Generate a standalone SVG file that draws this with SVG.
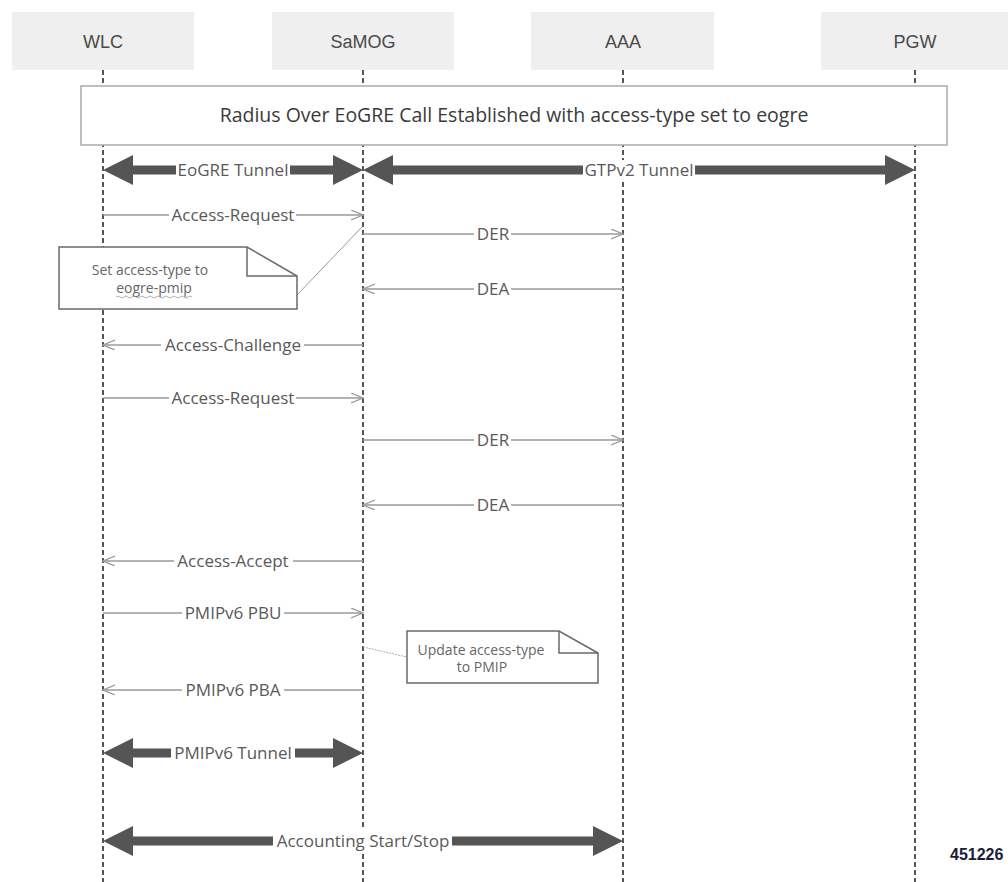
<svg xmlns="http://www.w3.org/2000/svg" width="1008" height="882" viewBox="0 0 1008 882">
<defs>
<marker id="chev" markerUnits="userSpaceOnUse" markerWidth="14" markerHeight="12" refX="12" refY="5" orient="auto">
<path d="M0,0 L12,5 L0,10" fill="none" stroke="#9a9a9a" stroke-width="1.3"/>
</marker>
<style>
.hdr{fill:#efefef;}
.htxt{font-family:"Liberation Sans",Arial,sans-serif;font-size:18px;fill:#4a4a4a;text-anchor:middle;}
.life{stroke:#555;stroke-width:2;stroke-dasharray:5 3;fill:none;}
.msg{stroke:#9a9a9a;stroke-width:1.4;fill:none;marker-end:url(#chev);}
.lbl{font-family:"Open Sans","Noto Sans",sans-serif;font-size:17px;fill:#595959;text-anchor:middle;}
.bg{fill:#fff;}
.thick{fill:#555;}
.note{fill:#fff;stroke:#6a6a6a;stroke-width:1.5;}
.fold{fill:none;stroke:#6a6a6a;stroke-width:1.5;}
.ntxt{font-family:"Open Sans","Noto Sans",sans-serif;font-size:14px;fill:#666;text-anchor:middle;}
</style>
</defs>
<rect width="1008" height="882" fill="#fff"/>

<g id="node-WLC">
<rect class="hdr" x="12" y="12" width="182" height="58"/>
<text class="htxt" x="103" y="48">WLC</text>
<line class="life" x1="103" y1="70" x2="103" y2="882"/>
</g>
<g id="node-SaMOG">
<rect class="hdr" x="272" y="12" width="182" height="58"/>
<text class="htxt" x="363" y="48">SaMOG</text>
<line class="life" x1="363" y1="70" x2="363" y2="882"/>
</g>
<g id="node-AAA">
<rect class="hdr" x="531" y="12" width="183" height="58"/>
<text class="htxt" x="623" y="48">AAA</text>
<line class="life" x1="623" y1="70" x2="623" y2="882"/>
</g>
<g id="node-PGW">
<rect class="hdr" x="821" y="12" width="187" height="58"/>
<text class="htxt" x="915" y="48">PGW</text>
<line class="life" x1="915" y1="70" x2="915" y2="882"/>
</g>

<g id="banner">
<rect x="81" y="86" width="866" height="59" fill="#fff" stroke="#aaa" stroke-width="1.5"/>
<text x="514" y="122" font-family="'Open Sans','Noto Sans',sans-serif" font-size="19.5" fill="#3a3a3a" text-anchor="middle">Radius Over EoGRE Call Established with access-type set to eogre</text>
</g>

<g id="connectors">
<!-- EoGRE Tunnel -->
<polygon class="thick" points="103,170 133,155 133,165.5 333,165.5 333,155 363,170 333,185 333,174.5 133,174.5 133,185"/>
<rect class="bg" x="176" y="160" width="114" height="20"/>
<text class="lbl" x="233" y="176">EoGRE Tunnel</text>
<!-- GTPv2 Tunnel -->
<polygon class="thick" points="363,170 393,155 393,165.5 885,165.5 885,155 915,170 885,185 885,174.5 393,174.5 393,185"/>
<rect class="bg" x="583" y="160" width="112" height="20"/>
<text class="lbl" x="639" y="176">GTPv2 Tunnel</text>

<!-- Access-Request -->
<line class="msg" x1="103" y1="215" x2="363" y2="215"/>
<rect class="bg" x="169" y="205" width="127" height="20"/>
<text class="lbl" x="233" y="221">Access-Request</text>
<!-- DER -->
<line class="msg" x1="363" y1="234" x2="623" y2="234"/>
<rect class="bg" x="474" y="224" width="37" height="20"/>
<text class="lbl" x="493" y="240">DER</text>
<!-- DEA -->
<line class="msg" x1="623" y1="289" x2="363" y2="289"/>
<rect class="bg" x="474" y="279" width="37" height="20"/>
<text class="lbl" x="493" y="295">DEA</text>
<!-- Access-Challenge -->
<line class="msg" x1="363" y1="345" x2="103" y2="345"/>
<rect class="bg" x="161" y="335" width="143" height="20"/>
<text class="lbl" x="233" y="351">Access-Challenge</text>
<!-- Access-Request 2 -->
<line class="msg" x1="103" y1="398" x2="363" y2="398"/>
<rect class="bg" x="169" y="388" width="127" height="20"/>
<text class="lbl" x="233" y="404">Access-Request</text>
<!-- DER 2 -->
<line class="msg" x1="363" y1="440" x2="623" y2="440"/>
<rect class="bg" x="474" y="430" width="37" height="20"/>
<text class="lbl" x="493" y="446">DER</text>
<!-- DEA 2 -->
<line class="msg" x1="623" y1="505" x2="363" y2="505"/>
<rect class="bg" x="474" y="495" width="37" height="20"/>
<text class="lbl" x="493" y="511">DEA</text>
<!-- Access-Accept -->
<line class="msg" x1="363" y1="561" x2="103" y2="561"/>
<rect class="bg" x="174" y="551" width="119" height="20"/>
<text class="lbl" x="233" y="567">Access-Accept</text>
<!-- PMIPv6 PBU -->
<line class="msg" x1="103" y1="613" x2="363" y2="613"/>
<rect class="bg" x="182" y="603" width="102" height="20"/>
<text class="lbl" x="233" y="619">PMIPv6 PBU</text>
<!-- PMIPv6 PBA -->
<line class="msg" x1="363" y1="690" x2="103" y2="690"/>
<rect class="bg" x="182" y="680" width="102" height="20"/>
<text class="lbl" x="233" y="696">PMIPv6 PBA</text>

<!-- PMIPv6 Tunnel -->
<polygon class="thick" points="103,753 133,738 133,748.5 333,748.5 333,738 363,753 333,768 333,757.5 133,757.5 133,768"/>
<rect class="bg" x="171" y="743" width="124" height="20"/>
<text class="lbl" x="233" y="759">PMIPv6 Tunnel</text>
<!-- Accounting Start/Stop -->
<polygon class="thick" points="103,841 133,826 133,836.5 593,836.5 593,826 623,841 593,856 593,845.5 133,845.5 133,856"/>
<rect class="bg" x="273" y="829" width="179" height="24"/>
<text class="lbl" x="363" y="847">Accounting Start/Stop</text>

<!-- note anchors -->
<line x1="297" y1="295" x2="362" y2="227" stroke="#9a9a9a" stroke-width="1"/>
<line x1="363" y1="647" x2="407" y2="657" stroke="#b0b0b0" stroke-width="1" stroke-dasharray="2 1"/>
</g>

<g id="note-eogre-pmip">
<path class="note" d="M59,247 H247 L297,276 V309 H59 Z"/>
<path class="fold" d="M247,247 V276 H297"/>
<text class="ntxt" x="150" y="275">Set access-type to</text>
<text class="ntxt" x="154" y="293">eogre-pmip</text>
<path d="M116,297 q2,-2 4,0 t4,0 t4,0 t4,0 t4,0 t4,0 t4,0 t4,0 t4,0 t4,0 t4,0 t4,0 t4,0 t4,0 t4,0 t4,0 t4,0 t4,0 t4,0" fill="none" stroke="#999" stroke-width="0.8"/>
</g>

<g id="note-pmip">
<path class="note" d="M407,631 H559 L598,653 V683 H407 Z"/>
<path class="fold" d="M559,631 V653 H598"/>
<text class="ntxt" x="481" y="655">Update access-type</text>
<text class="ntxt" x="482" y="672">to PMIP</text>
</g>

<text x="950" y="860" font-family="'Liberation Sans',Arial,sans-serif" font-size="16" font-weight="bold" fill="#1c1c3a">451226</text>
</svg>
